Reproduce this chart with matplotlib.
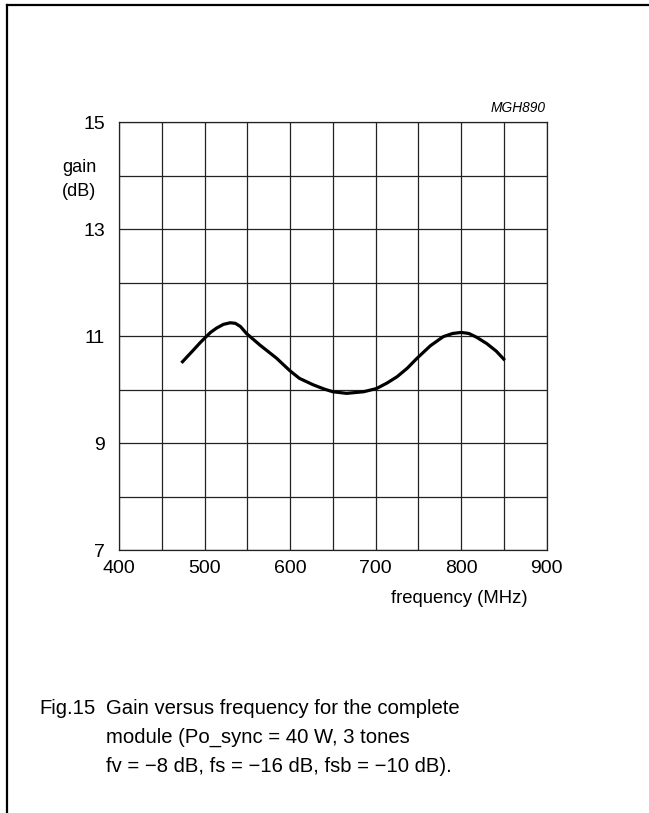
import matplotlib
matplotlib.use("Agg")
import matplotlib.pyplot as plt
from matplotlib.lines import Line2D

plt.rcParams['font.family'] = ['Liberation Sans', 'DejaVu Sans']

# Data
freq_mhz = [473, 480, 487, 495, 500, 507, 514, 522, 530, 536, 542, 549, 565,
            584, 600, 611, 627, 640, 650, 666, 686, 701, 713, 725, 737, 748,
            764, 779, 790, 800, 809, 818, 830, 841, 851]
gain_db = [10.50, 10.62, 10.74, 10.88, 10.96, 11.07, 11.15, 11.22, 11.25, 11.24,
           11.18, 11.05, 10.83, 10.59, 10.35, 10.21, 10.09, 10.01, 9.96, 9.93,
           9.96, 10.02, 10.12, 10.24, 10.40, 10.58, 10.82, 10.99, 11.05, 11.07,
           11.05, 10.98, 10.86, 10.72, 10.55]

x_ticks = [400, 500, 600, 700, 800, 900]
y_ticks = [7, 9, 11, 13, 15]
x_grid = list(range(400, 901, 50))
y_grid = list(range(7, 16, 1))

W, H = 649, 813
fig = plt.figure(figsize=(W / 100, H / 100), dpi=100)
fig.patch.set_facecolor('white')

ax = fig.add_axes([119 / W, 1 - 550 / H, (546.7 - 119) / W, (550 - 122.3) / H])
ax.set_xlim(400, 900)
ax.set_ylim(7, 15)
for xv in x_grid:
    ax.axvline(xv, color='#222222', lw=0.9, zorder=1)
for yv in y_grid:
    ax.axhline(yv, color='#222222', lw=0.9, zorder=1)
for s in ax.spines.values():
    s.set_color('#222222')
    s.set_linewidth(0.9)

ax.plot(freq_mhz, gain_db, color='black', lw=2.3, solid_capstyle='butt',
        solid_joinstyle='round', zorder=3)

ax.set_xticks(x_ticks)
ax.set_yticks(y_ticks)
ax.tick_params(length=0, labelsize=14, colors='black')
ax.tick_params(axis='x', pad=7)
ax.tick_params(axis='y', pad=10)

# axis labels
lab = 13
fig.text(62 / W, 1 - 168 / H, 'gain', fontsize=lab, ha='left', va='center')
fig.text(62 / W, 1 - 192 / H, '(dB)', fontsize=lab, ha='left', va='center')
fig.text(528 / W, 1 - 598 / H, 'frequency (MHz)', fontsize=13.3, ha='right', va='center')
fig.text(546 / W, 1 - 108 / H, 'MGH890', fontsize=9.9, style='italic', ha='right', va='center')

# caption
cap_size = 14.6
fig.text(39 / W, 1 - 708 / H, 'Fig.15', fontsize=cap_size, ha='left', va='center')
fig.text(106 / W, 1 - 708 / H, 'Gain versus frequency for the complete', fontsize=cap_size, ha='left', va='center')
fig.text(106 / W, 1 - 737 / H, 'module (Po_sync = 40 W, 3 tones', fontsize=cap_size, ha='left', va='center')
fig.text(106 / W, 1 - 766 / H, 'fv = \u22128 dB, fs = \u221216 dB, fsb = \u221210 dB).', fontsize=cap_size, ha='left', va='center')

# page frame (top and left edges)
fig.add_artist(Line2D([7 / W, 1.0], [1 - 5.5 / H, 1 - 5.5 / H], color='black', lw=1.6, transform=fig.transFigure))
fig.add_artist(Line2D([7 / W, 7 / W], [1 - 5.5 / H, 0.0], color='black', lw=1.6, transform=fig.transFigure))

fig.savefig('out.png', dpi=100, facecolor='white')
